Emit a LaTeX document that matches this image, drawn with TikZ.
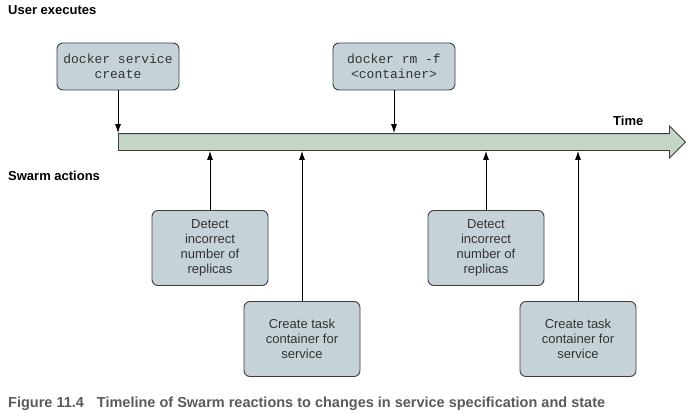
\documentclass[tikz,border=0pt]{standalone}
\usepackage{fontspec}
\setmainfont{Liberation Sans}
\setmonofont{Liberation Mono}
\usetikzlibrary{shapes, arrows.meta, positioning}
\definecolor{boxfill}{HTML}{C5D3D9}
\definecolor{barfill}{HTML}{C3D6C8}
\definecolor{edgegray}{HTML}{3C3C3C}
\definecolor{textgray}{HTML}{333333}
\definecolor{captiongray}{HTML}{5A5A5A}
\tikzset{
    auto, node distance =1.1 cm and 1.1 cm,
    cmdbox/.style={rectangle, rounded corners=6pt, draw=edgegray, fill=boxfill, line width=0.9pt, minimum width=122pt, minimum height=47pt, inner sep=0pt, align=center, text=textgray, font=\ttfamily\fontsize{13}{15}\selectfont},
    actbox/.style={rectangle, rounded corners=6pt, draw=edgegray, fill=boxfill, line width=0.9pt, minimum width=116pt, minimum height=75pt, inner sep=0pt, align=center, text=textgray, font=\fontsize{13}{15}\selectfont},
    heading/.style={anchor=base west, inner sep=0pt, font=\bfseries\fontsize{13}{15}\selectfont},
    tick/.style={-{Latex[length=9pt,width=6pt]}, line width=0.9pt},
}
\begin{document}
\begin{tikzpicture}[x=1pt, y=-1pt]
            \useasboundingbox (0,0) rectangle (692,417);
            % Headings
            \node[heading] (user) at (8,15) {User executes};
            \node[heading] (swarm) at (8,180) {Swarm actions};
            \node[heading] (timelabel) at (613,125) {Time};
            % Time bar
            \node[single arrow, draw=edgegray, fill=barfill, line width=0.9pt, inner xsep=0pt, inner ysep=8pt, minimum height=567pt, single arrow head extend=7.5pt, single arrow tip angle=90, anchor=tail] (timeline) at (118,142) {};
            % User commands
            \node[cmdbox] (create) at (118,66.5) {docker service\\create};
            \node[cmdbox] (remove) at (394,66.5) {docker rm -f\\<container>};
            % Swarm reactions
            \node[actbox] (detectA) at (210,248) {Detect\\incorrect\\number of\\replicas};
            \node[actbox] (taskA) at (302,339) {Create task\\container for\\service};
            \node[actbox] (detectB) at (486,248) {Detect\\incorrect\\number of\\replicas};
            \node[actbox] (taskB) at (578,339) {Create task\\container for\\service};
            % Draw connectors
            \draw[tick] (create.south) -- (create.south |- timeline.north);
            \draw[tick] (remove.south) -- (remove.south |- timeline.north);
            \foreach \n in {detectA, taskA, detectB, taskB} {
                \draw[tick] (\n.north) -- (\n.north |- timeline.south);
            }
            % Caption
            \node[anchor=base west, inner sep=0pt, text=captiongray, font=\bfseries\fontsize{14.5}{16}\selectfont] (caption) at (8,407.5) {Figure 11.4\hspace{13pt}Timeline of Swarm reactions to changes in service specification and state};
        \end{tikzpicture}
\end{document}
